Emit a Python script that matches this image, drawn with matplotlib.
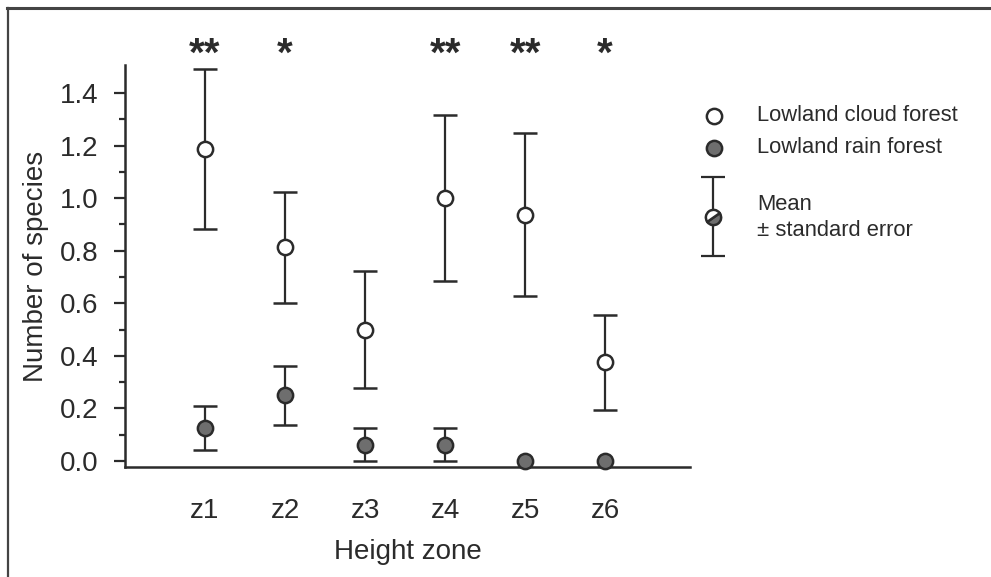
import matplotlib
matplotlib.use("Agg")
import matplotlib.pyplot as plt
from matplotlib.lines import Line2D
from matplotlib.markers import MarkerStyle
from matplotlib.transforms import Affine2D
import numpy as np

plt.rcParams['font.family'] = ['Liberation Sans', 'DejaVu Sans']

zones = ["z1", "z2", "z3", "z4", "z5", "z6"]
cloud_mean = [1.1875, 0.8125, 0.5, 1.0, 0.9375, 0.375]
cloud_se = [0.305, 0.21, 0.223, 0.316, 0.31, 0.18]
rain_mean = [0.125, 0.25, 0.0625, 0.0625, 0.0, 0.0]
rain_se = [0.085, 0.113, 0.0625, 0.0625, 0.0, 0.0]
significance = ["**", "*", "", "**", "**", "*"]

DARK = "#2b2b2b"
GRAY = "#6e6e6e"
FS = 20

fig = plt.figure(figsize=(9.91, 5.77), dpi=100)
W, H = 991, 577
ax = fig.add_axes([125 / W, (H - 467) / H, (690 - 125) / W, (467 - 65) / H])

x = np.arange(len(zones))
ekw = dict(fmt='o', ecolor=DARK, elinewidth=1.6, capsize=8.5, capthick=1.6,
           markersize=11, markeredgewidth=1.8, markeredgecolor=DARK)
rain_err = [s if s > 0 else np.nan for s in rain_se]
ax.errorbar(x, rain_mean, yerr=rain_err, markerfacecolor=GRAY, clip_on=False,
            zorder=3, **ekw)
ax.errorbar(x, cloud_mean, yerr=cloud_se, markerfacecolor='white', clip_on=False,
            zorder=3, **ekw)

for xi, s in zip(x, significance):
    if s:
        ax.annotate(s, xy=(xi, 1.026), xycoords=('data', 'axes fraction'),
                    ha='center', va='center', fontsize=29, fontweight='bold',
                    color=DARK, annotation_clip=False)

ax.set_xlim(-1.0, 6.06)
ax.set_ylim(-0.0228, 1.5065)
ax.set_yticks(np.arange(0, 1.41, 0.2))
ax.set_yticklabels([f"{v:.1f}" for v in np.arange(0, 1.41, 0.2)])
ax.set_yticks(np.arange(0.1, 1.5, 0.2), minor=True)
ax.set_xticks(x)
ax.set_xticklabels(zones)
ax.tick_params(axis='y', which='major', length=8, width=1.6, pad=11,
               labelsize=FS, colors=DARK, direction='out')
ax.tick_params(axis='y', which='minor', length=4, width=1.6, colors=DARK)
ax.tick_params(axis='x', length=0, pad=22, labelsize=FS, colors=DARK)
for side in ['top', 'right']:
    ax.spines[side].set_visible(False)
for side in ['left', 'bottom']:
    ax.spines[side].set_linewidth(1.8)
    ax.spines[side].set_color(DARK)
ax.set_xlabel("Height zone", fontsize=FS, color=DARK, labelpad=11)
ax.set_ylabel("Number of species", fontsize=FS, color=DARK)
ax.yaxis.set_label_coords(-0.135, 0.5)

# legend drawn in its own pixel-coordinate axes
LFS = 15.8
lax = fig.add_axes([0, 0, 1, 1], facecolor='none')
lax.set_xlim(0, W)
lax.set_ylim(H, 0)
lax.axis('off')
lax.plot([714], [116], 'o', markersize=11, markerfacecolor='white',
         markeredgecolor=DARK, markeredgewidth=1.8)
lax.plot([714], [147.5], 'o', markersize=11, markerfacecolor=GRAY,
         markeredgecolor=DARK, markeredgewidth=1.8)
lax.text(757, 121, "Lowland cloud forest", fontsize=LFS, va='baseline', color=DARK)
lax.text(757, 153, "Lowland rain forest", fontsize=LFS, va='baseline', color=DARK)
lax.errorbar([713], [217], yerr=[[40], [39]], fmt='none', ecolor=DARK,
             elinewidth=1.6, capsize=8.5, capthick=1.6)
ms = MarkerStyle('o', fillstyle='bottom', transform=Affine2D().rotate_deg(35))
lax.plot([713], [217], marker=ms, markersize=11, markerfacecolor=GRAY,
         markerfacecoloralt='white', markeredgecolor=DARK, markeredgewidth=1.8,
         linestyle='none')
lax.text(757, 210, "Mean", fontsize=LFS, va='baseline', color=DARK)
lax.text(757, 236, "± standard error", fontsize=LFS, va='baseline', color=DARK)

# outer frame (top and left edges)
fig.add_artist(Line2D([7 / W, 1], [1 - 7.5 / H, 1 - 7.5 / H], color='#444444', lw=2.2))
fig.add_artist(Line2D([7.5 / W, 7.5 / W], [0, 1 - 7.5 / H], color='#444444', lw=1.6))

fig.savefig("out.png", dpi=100)
